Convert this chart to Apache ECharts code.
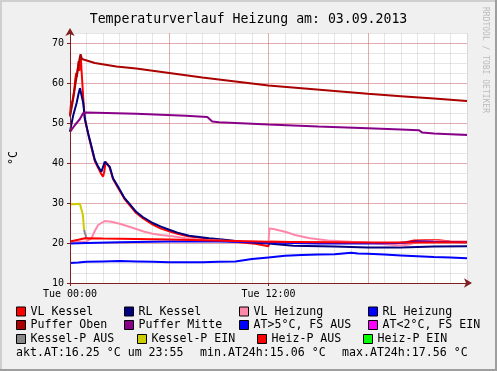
<!DOCTYPE html>
<html><head><meta charset="utf-8">
<script src="https://cdn.jsdelivr.net/npm/echarts@6/dist/echarts.min.js"></script>
<style>html,body{margin:0;padding:0;background:#F0F0F0}#c{width:497px;height:371px}</style>
</head><body><div id="c"></div><script>
// ---------- data ----------
const chartTitle = 'Temperaturverlauf Heizung am: 03.09.2013';
const xTickLabels = {0: 'Tue 00:00', 12: 'Tue 12:00'};
const yTickLabels = [10, 20, 30, 40, 50, 60, 70];
const seriesNames = ['VL Kessel', 'RL Kessel', 'VL Heizung', 'RL Heizung', 'Puffer Oben', 'Puffer Mitte',
  'AT>5°C, FS AUS', 'AT<2°C, FS EIN', 'Kessel-P AUS', 'Kessel-P EIN', 'Heiz-P AUS', 'Heiz-P EIN'];
const seriesColors = ['#FF0000', '#000080', '#FF88AA', '#0000FF', '#AA0000', '#880088',
  '#0000FF', '#FF00FF', '#888888', '#CCCC00', '#FF0000', '#00FF00'];
const statsTexts = ['akt.AT:16.25 °C um 23:55', 'min.AT24h:15.06 °C', 'max.AT24h:17.56 °C'];

// [hour, °C]
const vlKessel = [[0,52],[0.05,54.5],[0.15,55.5],[0.25,58],[0.32,61],[0.38,62.5],[0.42,61.5],[0.48,64],[0.52,65.5],
  [0.56,63],[0.6,64.5],[0.66,66],[0.7,63],[0.76,59],[0.82,55],[0.9,51],[1.1,47.2],[1.3,43.8],[1.5,40.5],[1.7,38.8],
  [1.9,37.2],[2.0,36.6],[2.08,38],[2.15,40.3],[2.25,40.5],[2.4,38.8],[2.6,36],[2.9,33.8],[3.3,31],[3.6,29.5],[4.0,27.5],
  [4.4,26.2],[5.0,24.6],[5.5,23.6],[6,22.9],[6.5,22.3],[7.2,21.6],[8.4,21.0],[9.2,20.6],[10.4,20.1],[11.2,19.8],
  [12.0,19.2],[12.05,20.4],[14,20.2],[16,20.1],[18,20.0],[19.5,19.9],[20.3,20.2],[20.8,20.6],[21.5,20.7],[22.3,20.7],
  [23,20.4],[24,20.3]];
const rlKessel = [[0,47.8],[0.1,50],[0.2,52],[0.3,53.5],[0.4,55],[0.5,57],[0.6,58.7],[0.65,58.5],[0.72,56.5],[0.8,55],
  [0.9,51],[1.1,47.4],[1.3,44.1],[1.5,40.8],[1.7,39.1],[1.9,37.8],[2.0,37.4],[2.1,40.3],[2.2,40.8],[2.4,39.1],[2.6,36.2],
  [2.9,34.1],[3.3,31.2],[3.6,29.8],[4.0,27.8],[4.4,26.5],[5.0,25],[5.5,24.1],[6,23.3],[6.5,22.6],[7.2,21.8],[8.4,21.2],
  [9.2,20.9],[10.4,20.3],[12,19.9],[13.5,19.3],[16,19.1],[18,18.9],[20,18.9],[22,19.1],[24,19.2]];
const vlHeizung = [[0,20.3],[1.0,20.4],[1.3,21.2],[1.5,23],[1.7,24.5],[2.1,25.5],[2.5,25.3],[3,24.8],[3.5,24.2],[4,23.5],
  [4.5,22.8],[5,22.3],[5.5,22],[6.3,21.6],[7,21.2],[8,20.8],[9,20.6],[10,20.4],[11,20.3],[12,20.2],[12.05,23.6],
  [12.3,23.5],[13,22.8],[13.6,22],[14.5,21.2],[15.6,20.6],[17,20.3],[18,20.1],[19,19.7],[20,19.4],[20.5,19.6],[21,20.3],
  [22,20.5],[23,20.3],[24,20.2]];
const rlHeizung = [[0,19.9],[1,20],[3,20.2],[6,20.4],[9,20.4],[12,20.1],[15,19.9],[18,19.9],[20,20],[21,20.4],[22,20.3],[24,20.2]];
const pufferOben = [[0,51.6],[0.15,55],[0.3,59],[0.45,63],[0.6,66.5],[0.64,67.2],[0.72,66],[0.8,65.7],[1.5,65],[2.8,64.1],
  [4,63.6],[6,62.5],[8,61.4],[10,60.4],[12,59.4],[14,58.7],[16,58],[18,57.3],[20,56.7],[22,56.1],[24,55.5]];
const pufferMitte = [[0,47.8],[0.3,49.5],[0.6,51],[0.8,52.5],[1,52.6],[4,52.3],[7,51.8],[8.3,51.5],[8.4,51.2],[8.6,50.4],
  [9,50.2],[12,49.6],[15,49.1],[18,48.7],[20,48.4],[21.1,48.2],[21.3,47.6],[22,47.4],[24,47.0]];
const atFsAus = [[0,15.0],[0.5,15.1],[1,15.3],[2,15.4],[3,15.5],[4,15.4],[5,15.3],[6,15.2],[7,15.2],[8,15.2],[9,15.3],
  [10,15.4],[10.5,15.7],[11,16.0],[12,16.4],[13,16.8],[14,17.0],[15,17.1],[16,17.2],[17,17.55],[17.4,17.4],[18,17.3],
  [19,17.1],[20,16.9],[21,16.7],[22,16.5],[23,16.4],[24,16.2]];
const atFsEin = [];
const kesselPAus = [[0.85,23.3],[0.9,22.5],[1.0,21.2]];
const kesselPEin = [[0,29.6],[0.6,29.8],[0.72,29.9],[0.78,27],[0.85,23.3]];
const heizPAus = [[0,20.4],[0.5,20.8],[0.9,21.2],[2,21.1],[4,21],[6,20.9],[8,20.7],[10,20.5],[12,20.3],[15,20.2],[18,20.1],[20,20.1],[24,20.2]];
const heizPEin = [];
const seriesData = [vlKessel, rlKessel, vlHeizung, rlHeizung, pufferOben, pufferMitte, atFsAus, atFsEin, kesselPAus, kesselPEin, heizPAus, heizPEin];

// ---------- layout / style ----------
const F = 'DejaVu Sans Mono';
const AX = '#7F1F1F';
const GRID = 'rgba(143,143,143,0.22)';
const MGRID = 'rgba(222,80,80,0.38)';
const legendPos = [[16,304.5],[124,304.5],[239,304.5],[368,304.5],
                   [16,318],[124,318],[239,318],[368,318],
                   [16,332],[137,332],[257,332],[363,332]];
const statsPos = [16, 200, 342];

const chart = echarts.init(document.getElementById('c'), null, {renderer: 'canvas'});
const hidden = {axisLine:{show:false}, axisTick:{show:false}, axisLabel:{show:false}};
chart.setOption({
  animation: false,
  backgroundColor: '#F0F0F0',
  title: {text: chartTitle, left: 'center', top: 8,
    textStyle: {fontFamily: F, fontSize: 13.2, fontWeight: 'normal', color: '#000'}},
  grid: {left: 67, top: 33, width: 400, height: 250, show: true, backgroundColor: '#FFFFFF', borderWidth: 0},
  xAxis: [
    {type:'value', min:0, max:24, interval:12, position:'bottom', z:5,
      axisLine:{show:true, onZero:false, symbol:['none','arrow'], symbolSize:[7,8], symbolOffset:[0,5], lineStyle:{color:AX, width:1}},
      axisTick:{show:true, length:3, lineStyle:{color:AX}},
      axisLabel:{formatter: v => xTickLabels[v] || '', showMaxLabel:false, fontFamily:F, fontSize:10, color:'#000', margin:6},
      splitLine:{show:false}},
    Object.assign({type:'value', min:0, max:24, interval:1, position:'bottom',
      splitLine:{show:true, lineStyle:{color:GRID, width:1}}}, hidden),
    Object.assign({type:'value', min:0, max:24, interval:6, position:'bottom',
      splitLine:{show:true, showMinLine:false, showMaxLine:false, lineStyle:{color:MGRID, width:1}}}, hidden)
  ],
  yAxis: [
    {type:'value', min:10, max:72.5, interval:10, position:'left', z:5,
      name:'°C', nameLocation:'middle', nameGap:50, nameRotate:90,
      nameTextStyle:{fontFamily:F, fontSize:11.6, color:'#000'},
      axisLine:{show:true, onZero:false, symbol:['none','arrow'], symbolSize:[7,8], symbolOffset:[0,5], lineStyle:{color:AX, width:1}},
      axisTick:{show:true, length:3, lineStyle:{color:AX}},
      axisLabel:{formatter: v => yTickLabels.includes(v) ? String(v) : '', showMaxLabel:false, fontFamily:F, fontSize:10, color:'#000', margin:6},
      splitLine:{show:false}},
    Object.assign({type:'value', min:10, max:72.5, interval:2.5, position:'left',
      splitLine:{show:true, lineStyle:{color:GRID, width:1}}}, hidden),
    Object.assign({type:'value', min:10, max:72.5, interval:10, position:'left',
      splitLine:{show:true, showMinLine:false, showMaxLine:false, lineStyle:{color:MGRID, width:1}}}, hidden)
  ],
  legend: seriesNames.map((n, i) => ({
    data: [n], left: legendPos[i][0], top: legendPos[i][1], padding: 0, itemGap: 0,
    icon: 'rect', itemWidth: 9, itemHeight: 9, selectedMode: false,
    itemStyle: {borderColor: '#000', borderWidth: 1},
    textStyle: {fontFamily: F, fontSize: 11.6, color: '#000', lineHeight: 14}
  })),
  series: seriesNames.map((n, i) => ({
    name: n, type: 'line', data: seriesData[i], xAxisIndex: 0, yAxisIndex: 0,
    showSymbol: false, symbol: 'none', smooth: false,
    color: seriesColors[i], itemStyle: {color: seriesColors[i]},
    lineStyle: {color: seriesColors[i], width: 2}
  })),
  graphic: [
    {type:'rect', shape:{x:0, y:0, width:497, height:2}, style:{fill:'#CFCFCF'}, silent:true},
    {type:'rect', shape:{x:0, y:0, width:2, height:371}, style:{fill:'#CFCFCF'}, silent:true},
    {type:'rect', shape:{x:495, y:0, width:2, height:371}, style:{fill:'#9E9E9E'}, silent:true},
    {type:'rect', shape:{x:0, y:369, width:497, height:2}, style:{fill:'#9E9E9E'}, silent:true},
    {type:'text', x:485, y:7, rotation:-Math.PI/2, silent:true,
      style:{text:'RRDTOOL / TOBI OETIKER', fontFamily:F, fontSize:8, fill:'#BBBBBB', textAlign:'left', textVerticalAlign:'middle'}}
  ].concat(statsTexts.map((t, i) => ({type:'text', x: statsPos[i], y: 352.7, silent:true,
      style:{text:t, fontFamily:F, fontSize:11.6, fill:'#000', textAlign:'left', textVerticalAlign:'middle'}})))
});
</script></body></html>
